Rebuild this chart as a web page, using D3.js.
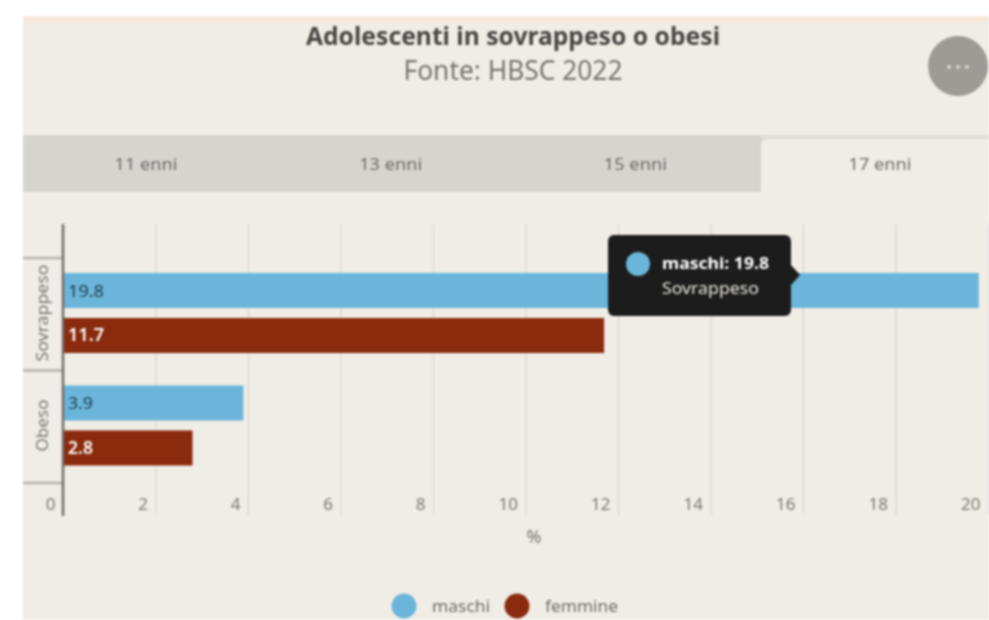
<!DOCTYPE html>
<html><head><meta charset="utf-8">
<script src="https://cdn.jsdelivr.net/npm/d3@7/dist/d3.min.js"></script>
<style>
html,body{margin:0;padding:0;background:#fff;overflow:hidden}
svg{display:block;filter:blur(0.8px)}
text{font-family:"Noto Sans",sans-serif}
</style></head><body>
<svg id="c" width="989" height="620"></svg>
<script>
const titleText = "Adolescenti in sovrappeso o obesi";
const subtitleText = "Fonte: HBSC 2022";
const tabs = ["11 enni","13 enni","15 enni","17 enni"];
const activeTab = "17 enni";
const categories = ["Sovrappeso","Obeso"];
const seriesNames = ["maschi","femmine"];
const maschi = [19.8,3.9];
const femmine = [11.7,2.8];
const seriesColors = ["#6bb5da","#8b2b0d"];
const xTicks = [0,2,4,6,8,10,12,14,16,18,20];
const axisTitle = "%";

const svg = d3.select("#c");
const bg = "#f0ede6";
svg.append("rect").attr("x",23).attr("y",16).attr("width",966).attr("height",604).attr("fill",bg);
svg.append("rect").attr("x",23).attr("y",16).attr("width",966).attr("height",6).attr("fill","#f6e7da");

// header
svg.append("text").attr("x",513).attr("y",45).attr("text-anchor","middle").attr("font-size",25).attr("font-weight",700)
  .attr("fill","#4a4644").attr("textLength",414).attr("lengthAdjust","spacingAndGlyphs").text(titleText);
svg.append("text").attr("x",513).attr("y",80).attr("text-anchor","middle").attr("font-size",28)
  .attr("fill","#77736f").attr("textLength",219).attr("lengthAdjust","spacingAndGlyphs").text(subtitleText);

// menu button
svg.append("circle").attr("cx",958).attr("cy",66).attr("r",30).attr("fill","#9c9b96");
svg.selectAll(".dot").data([-9,0,9]).join("circle").attr("cx",d=>958+d).attr("cy",67).attr("r",2).attr("fill","#d8d6d0");

// tabs
svg.append("rect").attr("x",23).attr("y",135).attr("width",966).attr("height",57).attr("fill","#d5d4cf");
svg.append("rect").attr("x",761).attr("y",135).attr("width",228).attr("height",4).attr("fill","#dfddd6");
svg.append("path").attr("d","M761 192V145a6 6 0 0 1 6-6H989V192Z").attr("fill",bg);
const tabX = d3.scalePoint().domain(tabs).range([146,880]);
svg.selectAll(".tab").data(tabs).join("text").attr("class","tab")
  .attr("x",d=>tabX(d)).attr("y",170).attr("text-anchor","middle").attr("font-size",17)
  .attr("fill","#6f6b67").attr("textLength",63).attr("lengthAdjust","spacingAndGlyphs").text(d=>d);

// scales
const x = d3.scaleLinear().domain([0,20]).range([63,988]);
const y = d3.scaleBand().domain(categories).range([258,483]);
const ySeries = d3.scaleBand().domain(seriesNames).range([15,95]).paddingInner(0.222);

// grid and x axis
const xAxis = svg.append("g").attr("transform","translate(0,224)")
  .call(d3.axisBottom(x).tickValues(xTicks).tickSize(291).tickFormat(d3.format("d")));
xAxis.select(".domain").remove();
xAxis.selectAll(".tick line").attr("stroke","#dcdad3").attr("stroke-width",1.5);
xAxis.selectAll(".tick text").attr("x",-8).attr("y",286).attr("dy","0").attr("text-anchor","end")
  .attr("font-size",17).attr("fill","#7a7672");

// category axis
const yAxis = svg.append("g").attr("transform","translate(63,0)")
  .call(d3.axisLeft(y).tickSize(0).tickFormat(d=>d));
yAxis.select(".domain").remove();
yAxis.selectAll(".tick text").remove();
svg.selectAll(".catline").data([...categories.map(c=>y(c)), y.range()[1]]).join("line")
  .attr("x1",23).attr("x2",63).attr("y1",d=>d).attr("y2",d=>d).attr("stroke","#b5b1aa").attr("stroke-width",2.5);
svg.selectAll(".catlab").data(categories).join("text")
  .attr("transform",d=>`translate(48,${y(d)+55}) rotate(-90)`)
  .attr("text-anchor","middle").attr("font-size",16.5).attr("fill","#7a7672")
  .attr("textLength",d=>d==="Sovrappeso"?97:52).attr("lengthAdjust","spacingAndGlyphs").text(d=>d);

// bars
const rows = [maschi,femmine].flatMap((vals,s)=>vals.map((v,i)=>({c:categories[i],s:seriesNames[s],v,col:seriesColors[s],idx:s})));
svg.selectAll(".bar").data(rows).join("rect").attr("class","bar")
  .attr("x",x(0)).attr("y",d=>y(d.c)+ySeries(d.s)).attr("width",d=>x(d.v)-x(0)).attr("height",ySeries.bandwidth()).attr("fill",d=>d.col);
svg.selectAll(".val").data(rows).join("text")
  .attr("x",68).attr("y",d=>y(d.c)+ySeries(d.s)+ySeries.bandwidth()/2+6).attr("font-size",17).attr("font-weight",d=>d.idx?600:400)
  .attr("fill",d=>d.idx?"#fff":"#1f3a4a").attr("textLength",d=>d.v>=10?36:25).attr("lengthAdjust","spacingAndGlyphs").text(d=>d.v);

// axis line on top of the bars
svg.append("line").attr("x1",x(0)).attr("x2",x(0)).attr("y1",224).attr("y2",516).attr("stroke","#716c68").attr("stroke-width",2.5);

// axis title
svg.append("text").attr("x",534).attr("y",543).attr("text-anchor","middle").attr("font-size",18).attr("fill","#7a7672").text(axisTitle);

// legend
const legendX = [404,517];
seriesNames.forEach((n,i)=>{
  svg.append("circle").attr("cx",legendX[i]).attr("cy",606).attr("r",12.5).attr("fill",seriesColors[i]);
  svg.append("text").attr("x",legendX[i]+28).attr("y",612).attr("font-size",17).attr("fill","#6f6b67")
    .attr("textLength",i?73:58).attr("lengthAdjust","spacingAndGlyphs").text(n);
});

// tooltip
const tipV = maschi[0], tipC = categories[0];
svg.append("path").attr("d","M791 265L800 275L791 285Z").attr("fill","#1c1c1c");
svg.append("rect").attr("x",608).attr("y",235).attr("width",183).attr("height",81).attr("rx",6).attr("fill","#1c1c1c");
svg.append("circle").attr("cx",638).attr("cy",264).attr("r",12).attr("fill",seriesColors[0]);
svg.append("text").attr("x",662).attr("y",269).attr("font-size",16.5).attr("font-weight",700).attr("fill","#fff")
  .attr("textLength",107).attr("lengthAdjust","spacingAndGlyphs").text(`${seriesNames[0]}: ${tipV}`);
svg.append("text").attr("x",662).attr("y",294).attr("font-size",17).attr("fill","#e8e6e0")
  .attr("textLength",97).attr("lengthAdjust","spacingAndGlyphs").text(tipC);
</script>
</body></html>
